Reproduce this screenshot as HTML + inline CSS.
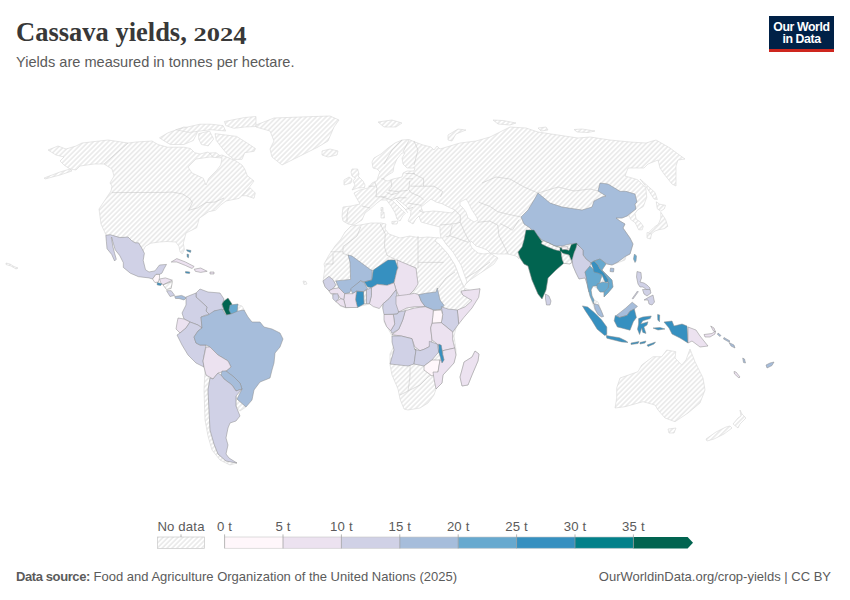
<!DOCTYPE html>
<html><head><meta charset="utf-8">
<style>
html,body{margin:0;padding:0;background:#fff;}
body{width:850px;height:600px;position:relative;overflow:hidden;font-family:"Liberation Sans",sans-serif;}
.t{position:absolute;white-space:nowrap;}
#title{left:16px;top:15px;font-family:"Liberation Serif",serif;font-weight:bold;font-size:26.5px;color:#383838;letter-spacing:0px;line-height:34px;}
.os{display:inline-block;transform:scaleY(0.68);transform-origin:50% 26px;}
.os4{display:inline-block;transform:translateY(3px) scaleY(0.93);transform-origin:50% 26px;}
#sub{left:16px;top:52.5px;font-size:14.6px;color:#5b5b5b;line-height:18px;}
#logo{position:absolute;left:769px;top:16px;width:65px;height:36px;background:#002147;}
#logo .bar{position:absolute;left:0;bottom:0;width:65px;height:3px;background:#ce261e;}
#logo .txt{position:absolute;left:0;top:5px;width:65px;text-align:center;color:#fff;font-size:12.3px;line-height:12.2px;font-weight:bold;letter-spacing:-0.4px;}
#foot1{left:16px;top:569px;font-size:13px;color:#5b5b5b;line-height:16px;}
#foot1 b{font-weight:bold;letter-spacing:-0.4px;}
#foot2{right:19px;top:569px;font-size:13px;color:#5b5b5b;line-height:16px;}
svg{position:absolute;left:0;top:0;}
.lg{font-size:13.2px;letter-spacing:0.15px;fill:#5b5b5b;font-family:"Liberation Sans",sans-serif;}
</style></head><body>
<div id="title" class="t">Cassava yields, <span class="os">202</span><span class="os4">4</span></div>
<div id="sub" class="t">Yields are measured in tonnes per hectare.</div>
<div id="logo"><div class="txt">Our World<br>in Data</div><div class="bar"></div></div>
<svg width="850" height="600" viewBox="0 0 850 600">
<defs><pattern id="hat" patternUnits="userSpaceOnUse" width="3.5" height="3.5" patternTransform="rotate(-45)"><rect width="3.5" height="3.5" fill="#fff"/><line x1="0" y1="1.75" x2="3.5" y2="1.75" stroke="#dddddd" stroke-width="1.0"/></pattern></defs>
<g fill="url(#hat)" stroke="#d6d6d6" stroke-width="0.6">
<path d="M48,150 L58,146 L66,149 L76,146 L82,143 L108,140 L128,143 L136,142 L152,141 L158,144.5 L167.6,147.2 L183.8,147.2 L190.6,148.6 L194.7,152.7 L200,154 L208,152 L214,157 L222,155 L236,161 L242,165 L244.7,169 L247.3,175.7 L254,181 L250,186.3 L243.3,194.3 L239.3,198.3 L226,201 L220.7,205 L215.3,210.3 L208.7,211.7 L199.3,218.3 L196.7,227.7 L186,233 L183.3,243.2 L184.4,249.7 L182.2,254 L180,251.8 L179,246.4 L175.8,242 L167,241.5 L159.5,242 L150.8,243.2 L145.4,246.4 L143,251 L135,242 L125,238 L113,236 L106,235 L101,224 L99,209 L107,197 L111,191 L112,186 L110,183 L114,176 L112,169 L104,164 L94,164 L80,166 L76,170 L70,169 L64,165 L60,161 L64,157 L56,155Z"/>
<path d="M159.5,137.8 L167.6,133 L183.8,127 L194.7,128.3 L197.4,132.4 L193.3,140.5 L183.8,144.5 L170.3,144.5 L163.5,140.5Z"/>
<path d="M198.7,133.7 L209.5,131 L213.6,139 L208.2,145.9 L201.4,144.5 L198.7,139Z"/>
<path d="M175.7,129.7 L200,124.2 L210.9,124.2 L223,125.6 L225.8,131 L210.9,129.7 L189.2,132.4Z"/>
<path d="M224.4,121.5 L244.7,117.5 L256,116.5 L256,126.5 L244.7,127 L233.9,128.3 L225.8,125.6Z"/>
<path d="M215,133.7 L225.8,135 L236.6,136.4 L247.4,143.2 L255.5,148.6 L254.2,151.3 L244.7,152.7 L242,159.4 L233.9,159.4 L227.1,154 L220.4,145.9 L216.3,140.5Z"/>
<path d="M209.5,153 L216,152.7 L220.4,156 L214,158Z"/>
<path d="M6,263 L10,264 L14,266.5 L18,268 L16,269 L11,266 L6,264.5Z"/>
<path d="M303,281 L306,281.5 L307,284 L304,284.5Z"/>
<path d="M256,125 L274,118 L300,117 L330,116 L339,120 L334,127 L328,141 L318,147 L300,156 L282,165 L272,157 L270,149 L274,141 L270,131 L256,127Z"/>
<path d="M322,151 L330,149 L338,151 L337,155 L328,157 L322,155Z"/>
<path d="M242,195.7 L250,187.7 L255.3,193 L254,198.3 L246,195.7Z"/>
<path d="M44,178 L60,172 L70,169 L72,171 L60,175 L45,179Z"/>
<path d="M354,225 L348,224 L343,221 L342,216 L343,207 L351,206 L360,204 L356,197 L354,193 L360,190 L368,188 L372,183 L377,180.5 L379,174 L380,172 L377,169 L373,168 L372,162 L374,158 L381,154 L388,148 L395,143 L402,140 L409,139.5 L415,142 L423,145 L431,147 L434,150 L437,146 L440,149 L460,143 L476,141 L490,137 L498,133 L510,127 L526,128 L538,132 L558,135 L578,138 L590,137 L610,140 L630,142 L646,143 L656,140 L670,148 L678,154 L685,159 L678,160 L676,166 L676,186 L672,184 L664,174 L660,168 L658,160 L648,164 L644,168 L628,168 L625,176 L632,178 L637.5,179.7 L645.7,187.8 L646.8,197.2 L643.3,206.5 L637.5,210 L635,213.5 L636.3,219.3 L640,221.7 L643.3,226.3 L642.2,229.8 L638.7,229.8 L635.2,222.8 L630.5,219.3 L629.3,215.8 L627,216 L622,218 L616,218 L620,221 L625,224 L623,228 L630,238 L633,244 L630,254 L626,256 L625,260 L617,263 L612,265 L607,264 L606,264 L602,270 L608,276 L612,280 L613,287 L608,293 L604,297 L604,292 L600,292 L597,288 L593,286 L591,290 L592,296 L594,300 L598,302 L603,316 L600,316 L595,310 L590,296 L588,288 L586,276 L579,279 L576,273 L573,266 L572,262 L570,262 L566,256 L562,257 L563,263 L554,270 L548,278 L546,290 L542,299 L538,294 L532,280 L528,266 L524,264 L520,258 L518,252 L519,259 L516,256 L508,254 L498,254 L490,253 L498,258 L494,264 L482,272 L470,280 L464,286 L460,270 L452,252 L446,244 L441,238 L440,232 L440,227 L430,224.5 L421,222 L419,216 L416,219 L413,224 L408,221 L410.5,215.5 L411,211.5 L406,206 L396.5,198.5 L392.5,198 L391.3,199.5 L399,207 L405.5,213.3 L403,215.5 L400,221 L397,219 L395,212.7 L391,206 L386.5,200 L381,200 L377,203 L369,210 L365,213 L362,220Z"/>
<path d="M352,169 L357.6,169 L359,174 L358,176 L363,181 L365,185 L364.6,187.5 L357.6,188 L352,190 L355,185 L353,181 L355.5,178 L352,176 L351,172Z"/>
<path d="M344,180 L349,177 L352,179 L351,183 L344,185Z"/>
<path d="M378,122 L392,120 L402,123 L396,127 L384,127Z"/>
<path d="M493,120 L503,120.5 L516,123 L510,125 L498,124Z"/>
<path d="M574,129.5 L582,129 L595,131 L588,132.5 L577,132Z"/>
<path d="M538,128 L546,127 L548,130 L541,131Z"/>
<path d="M448,135 L458,129 L466,130 L456,134 L452,141 L448,140Z"/>
<path d="M640,179 L655,192.5 L657.3,199.5 L654,199 L647,188Z"/>
<path d="M656.2,201.8 L659.7,204.2 L665.5,205.3 L664.3,208.8 L660.8,211.2 L657.3,208.8Z"/>
<path d="M660.8,212.3 L665.5,219.3 L667.8,226.3 L664.3,228.7 L658.5,229.8 L655,231 L649.2,235.7 L648,233.3 L653.8,227.5 L658.5,224 L660.8,218.2Z"/>
<path d="M647,232.5 L651.5,234 L650.5,239 L647,238Z"/>
<path d="M391.8,221.5 L398,221 L397,224 L392,224Z"/>
<path d="M381,207.5 L383,207.5 L383,211 L381,211Z"/>
<path d="M381,212 L384,212 L384.4,218 L381,218Z"/>
<path d="M351,226 L345,232 L341,239 L335,246 L329,255 L324,264 L325,268 L324,274 L323,282 L326,288 L330,292 L336,300 L340,306 L346,308 L356,307 L370,304 L382,305 L384,310 L386,314 L384,322 L390,332 L392,336 L394,346 L390,354 L390,365 L392,375 L398,389 L400,399 L404,409 L408,410 L420,408 L428,403 L434,395 L436,389 L442,383 L443,375 L454,363 L456,355 L456,350 L454,336 L456,328 L460,318 L468,310 L476,300 L480,289 L472,291 L464,288 L460,278 L455,265 L448,254 L439,244 L435,241 L439,238 L428,237 L419,237.7 L410,236 L400,238 L389,234 L385,229 L386,224 L381,223 L371,223 L360,225Z"/>
<path d="M475,351 L479,354 L478,361 L472,375 L468,385 L462,386 L460,377 L463,366 L464,362 L472,357Z"/>
<path d="M615,408 L625,406.7 L643,401.7 L655,405 L658,410 L665,418 L675,421.7 L688,413 L700,403 L705,390 L703,378 L695,361.7 L690,349 L686,360 L681.7,365 L675,358 L675.8,351.7 L666.7,350 L661.7,356.7 L653,356.7 L641.7,365 L638,371.7 L620,378 L616.7,388 L616.7,398Z"/>
<path d="M668,429 L676,428 L674,433 L669,433Z"/>
<path d="M740,410 L742,414 L746,418 L740,424 L738,428 L733,424 L738,418 L741,416Z"/>
<path d="M730,426 L732,428 L724,434 L714,439 L707,441 L706,439 L716,432 L726,427Z"/>
<path d="M203,361 L204,367 L205,370 L204,390 L205,420 L208,436 L212,450 L220,460 L230,465 L237,463 L226,461 L218,454 L214,444 L210,430 L209,410 L208,390 L210,378 L206,375Z"/>
<path d="M236,396 L237,399 L246,407 L240,411 L236,406Z"/>
<path d="M237,304.5 L242,306 L245,311 L239,313.5 L236.5,313Z"/>
</g><g fill="none" stroke="#c6c6c6" stroke-width="0.55">
<path d="M112,192.6 L165,192.4 L172,192 L182.6,194 L189.7,198.5 L192.4,202.6 L188.5,210.3"/>
<path d="M188.5,210.3 L197.4,208 L206,202.6 L215,202 L224,198"/>
<path d="M128,143 L104,164"/>
<path d="M360.6,227 L357,236 L348,243 L343,246.5 L343,251.8 L330.6,251.8"/>
<path d="M333,253.5 L333,264 L325.3,264"/>
<path d="M343,251.8 L343,253.5 L349,255.3"/>
<path d="M380,223.5 L385.3,234 L384.4,246.5 L387,255.3 L394,258.8 L397.6,260"/>
<path d="M418,236 L418,262.4 L418,268"/>
<path d="M418,262.4 L443.5,262.4"/>
<path d="M438,289 L446,278 L455,272"/>
<path d="M440.3,225 L455,223.7 L460.3,222.3"/>
<path d="M452.3,225 L449.7,235.7 L445.7,237"/>
<path d="M449.7,235.7 L468.3,242.3"/>
<path d="M460.3,222.3 L464.3,231.7 L469.7,242.3"/>
<path d="M455,210.3 L460.3,215.7 L460.3,222.3"/>
<path d="M477.7,222.3 L489.7,221 L497.7,225"/>
<path d="M497.7,225 L499,235.7 L504.3,246.3 L508.3,254.3"/>
<path d="M500.3,223.7 L508.3,227.7 L512.3,230.3 L519,219.7"/>
<path d="M479,202.3 L489.7,206.3 L497.7,211.7 L508.3,214.3 L521,217"/>
<path d="M482,183 L496,177 L510,179 L524,187 L538,193"/>
<path d="M538,193 L558,187 L574,191 L590,189 L598,191"/>
<path d="M362,206 L370,208"/>
<path d="M348.5,208 L347,214.7 L347,222.5"/>
<path d="M374.8,182 L377,188.3 L375.9,196.8 L381.2,196.8 L386.5,196.8"/>
<path d="M368.5,186.2 L374.8,186.2"/>
<path d="M390.7,178.8 L391.8,186.2 L388.6,190.4 L397,191.5 L407.7,190.4"/>
<path d="M381.2,178.8 L387.5,178.8"/>
<path d="M386.5,192.5 L391.8,194.7 L399.2,192.5"/>
<path d="M381.2,196.8 L391.8,200 L398,197.8 L406.6,197.8"/>
<path d="M409.8,180.9 L408.7,189.4 L410.8,192.5"/>
<path d="M413,173.5 L423.6,178.8 L423.6,186.2"/>
<path d="M423.6,186.2 L434,186.2 L442.6,191.5 L440.5,196.8"/>
<path d="M410.8,186.2 L423.6,186.2"/>
<path d="M410.8,192.5 L420.4,196.8 L423.6,200"/>
<path d="M407.7,203.1 L421.4,205.3"/>
<path d="M396,200 L405.5,209.5 L413,207.4"/>
<path d="M405.5,209.5 L407.7,212.7"/>
<path d="M405.5,173.5 L415,173.5"/>
<path d="M405.5,178.8 L413,178.8"/>
<path d="M419.3,210.5 L423.6,212.7"/>
<path d="M414,141 L418,150 L414,165"/>
<path d="M402,140 L392,150 L384,164"/>
<path d="M409,140 L403,152"/>
<path d="M410,365 L410,377 L408,391 L400,395"/>
<path d="M408,391 L420,385 L428,377 L433,374"/>
<path d="M462,280 L476,272 L490,262"/>
<path d="M464,289 L470,296 L460,292"/>
</g><g fill="#fff" stroke="#d6d6d6" stroke-width="0.6">
<path d="M196,159 L210,157 L222,158 L220.7,165 L216.7,170.3 L208.7,178.3 L206,185 L203.3,178.3 L192,173 L188,167Z"/>
<path d="M394,166 L397,159 L402,153 L405,153 L402,158 L403,164 L407,168 L415,168 L414,171 L407,171 L403,173 L402,177 L393,179 L388,181 L384,180 L384,178 L388,175 L393,172Z"/>
<path d="M421,207 L426,203 L431,199 L436,202 L442,203.7 L449.7,207.7 L455,210 L452,213 L444,212 L434,211 L423,212Z"/>
<path d="M460,202 L466,199 L468,202 L472,210 L476,216 L478,220 L474,222 L468,218 L466,212 L463,208 L460,205Z"/>
<path d="M471,241 L476,246 L482,248 L487,250 L490,253 L484,254 L478,253 L472,248 L470,244Z"/>
<path d="M437,238 L442,238 L446,244 L453,252 L461,265 L467,282 L464,287 L460,278 L455,265 L448,254 L439,244 L435,241Z"/>
</g><g stroke="#8a8a8a" stroke-width="0.5" stroke-linejoin="round">
<path fill="#d0d1e6" d="M105.8,235.3 L110.5,234.7 L119.8,237.6 L128,237 L131.5,240.5 L135,242.8 L138.5,242.8 L141.4,247.5 L144.4,253.3 L143.2,260.3 L145.5,269.7 L149,272 L154.9,270.9 L159.5,265 L166.5,264.4 L164.2,268.5 L161.9,273.2 L159.5,274.4 L156,274.4 L152.5,279 L149,277.9 L138.5,276.7 L130.3,273.2 L123.3,267.4 L123.3,262.7 L119.8,255.7 L115.2,249.8 L112.8,241.7 L111.7,237 L111.2,238 L111.7,239.3 L112.8,246.3 L114.6,253.3 L116.3,259.2 L114.6,261 L111.7,254.5 L107,248.7 L106.4,241.7Z"/>
<path fill="#fff7fb" d="M152.5,279 L156,274.4 L159.5,274.4 L159.5,277.9 L158.4,282 L154.9,282.5Z"/>
<path fill="#ece2f0" d="M159.5,279 L165.4,277.9 L172.4,280.2 L167.7,282.5 L163,284.9 L160.7,282.5Z"/>
<path fill="#3690c0" d="M157.2,282.5 L161.9,283.7 L160.7,285.4 L157.2,284.9Z"/>
<path fill="url(#hat)" d="M163,284.9 L172.4,281.4 L171.2,288.4 L166.5,289.5Z"/>
<path fill="#d0d1e6" d="M166.5,290.7 L171.2,290.7 L174.7,295.4 L170,296.5Z"/>
<path fill="#a6bddb" d="M174.7,296.5 L181.7,295.4 L186.4,297.7 L184,300 L179,298.5 L175.5,298.5Z"/>
<path fill="#ece2f0" d="M171.2,262 L176.8,258.6 L185.5,262 L194.2,266.5 L192,268.5 L185.5,265.5 L176.8,262Z"/>
<path fill="#ece2f0" d="M194.2,269.2 L200.7,268 L207.2,271.3 L200.7,272.4 L195.3,271.3Z"/>
<path fill="#3690c0" d="M185.5,271.5 L189.8,272 L189.5,273.5 L185.5,273Z"/>
<path fill="#ece2f0" d="M210,272 L214,272 L214,274 L210,274Z"/>
<path fill="#3690c0" d="M186.6,249.7 L191,250.5 L190.5,252.4 L187,251Z"/>
<path fill="#3690c0" d="M187,254 L188.7,254.5 L188.5,257.8 L187.2,257Z"/>
<path fill="#d0d1e6" d="M196,293 L200,289 L208,292 L220,293 L224,299 L222,305 L224,310 L214,311 L210,315 L206,311 L207,307 L196,297Z"/>
<path fill="#d0d1e6" d="M186,297 L196,293 L196,297 L207,307 L206,311 L210,315 L206,315 L201,317 L202,328 L198,325 L190,322 L184,319 L182,313 L186,305Z"/>
<path fill="#016450" d="M224,301 L228,298 L232,304 L230,310 L232,314 L227,316 L224,310 L222,304Z"/>
<path fill="#67a9cf" d="M230,305 L238,304 L237,313 L231,314 L229,310Z"/>
<path fill="#ece2f0" d="M178,318 L184,319 L190,322 L186,328 L180,333 L176,329 L177,323Z"/>
<path fill="#d0d1e6" d="M180,333 L186,328 L190,322 L198,325 L202,328 L198,331 L194,337 L196,343 L200,345 L206,345 L203,361 L204,367 L196,363 L188,355 L182,345 L177,335Z"/>
<path fill="#a6bddb" d="M201,317 L208,315 L214,311 L222,309 L226,315 L231,314 L238,311 L244,310 L248,317 L252,322 L260,322 L264,327 L272,329 L280,333 L283,339 L280,347 L275,353 L274,363 L272,370 L270,378 L260,382 L254,390 L252,400 L246,407 L237,399 L242,389 L240,383 L234,377 L226,371 L231,367 L228,361 L218,355 L210,347 L206,345 L200,345 L196,343 L194,337 L198,331 L202,328Z"/>
<path fill="#ece2f0" d="M206,347 L210,347 L218,355 L228,361 L231,367 L226,371 L218,373 L213,379 L206,375 L204,367 L203,361Z"/>
<path fill="#a6bddb" d="M222,371 L226,371 L234,377 L240,383 L242,389 L236,391 L232,385 L224,379 L221,375Z"/>
<path fill="#d0d1e6" d="M210,378 L213,379 L218,373 L221,375 L224,379 L232,385 L236,391 L242,389 L236,396 L236,406 L240,416 L236,421 L230,423 L228,428 L226,438 L228,445 L226,454 L229,458 L237,463 L226,461 L218,454 L214,444 L210,430 L209,410 L208,390Z"/>
<path fill="#d0d1e6" d="M323,280.9 L328.9,276.4 L332.8,279.4 L335.8,284.8 L332.8,288.8 L328.9,290.8 L325,286.8Z"/>
<path fill="#a6bddb" d="M348,255 L352,256 L371,270 L372.3,270 L371.9,279.9 L364.4,281.9 L360.5,280.9 L351.6,288.8 L349.6,292.7 L344.7,293.7 L338.8,287.8 L335.8,280.9 L350.6,279.4 L350,262Z"/>
<path fill="#a6bddb" d="M350.6,288.8 L360.5,280.9 L364.4,282.8 L367.4,288.8 L363.5,291.7 L356.5,291.2 L352.6,293.7Z"/>
<path fill="#3690c0" d="M364.4,281.9 L371.9,279.9 L373.3,270 L388,260 L395,260 L398,268 L397,270 L394,282.8 L387.2,285.3 L377.3,284.3 L371.4,287.8 L367.4,286.8Z"/>
<path fill="#ece2f0" d="M397,260 L416,268 L418,284 L414,290 L408,296 L404,300 L399,296 L396,289.8 L394,282.8 L397,270 L398,268Z"/>
<path fill="#ece2f0" d="M371.4,287.8 L377.3,284.3 L387.2,285.3 L394,282.8 L396,289.8 L389.1,298.7 L383.2,303.6 L379.3,308.5 L373.3,306.6 L369.4,303.6 L371.4,295.7Z"/>
<path fill="url(#hat)" d="M363.5,291.7 L366.4,289.8 L366.4,303.6 L364,304Z"/>
<path fill="#d0d1e6" d="M366.4,289.8 L371.4,287.8 L371.4,295.7 L369.4,303.6 L366.4,303.6Z"/>
<path fill="#3690c0" d="M356.5,291.2 L363.5,291.7 L364,304 L357.5,307.5 L355.5,299.6Z"/>
<path fill="#ece2f0" d="M344.7,293.7 L352.6,293.7 L356.5,291.2 L355.5,299.6 L357.5,307.5 L345.7,307.5 L343.7,299.6Z"/>
<path fill="#ece2f0" d="M328.9,290.8 L332.8,288.8 L338.8,287.8 L344.7,293.7 L343.7,299.6 L340.7,298.7 L337.8,294.7 L333.8,293.7 L330.8,293.7Z"/>
<path fill="#d0d1e6" d="M332.8,294.2 L337.8,293.7 L338.8,298.7 L335.8,301.6 L332.8,298.7Z"/>
<path fill="#ece2f0" d="M335.8,301.6 L340.7,298.7 L343.7,299.6 L345.7,307.5 L340.7,305.6Z"/>
<path fill="#d0d1e6" d="M383.2,303.6 L389.1,298.7 L396,289.8 L397,295.7 L399,302.6 L398.7,312 L397.3,314 L384,314.5 L382.7,308Z"/>
<path fill="#ece2f0" d="M396,296 L406.7,294.7 L414.7,293.3 L418.7,294.7 L421.3,301.3 L425.3,306.7 L414.7,306.7 L406.7,308 L398.7,312 L396,304Z"/>
<path fill="#a6bddb" d="M418.7,294.7 L425.3,293.3 L436,292 L437.3,288 L440,300 L444,305.3 L441.3,309.3 L433.3,310 L425.3,306.7 L421.3,301.3Z"/>
<path fill="#ece2f0" d="M461,291 L470,290 L480,288.7 L478.7,297.3 L472,308 L464,317.3 L458.7,324 L457.3,310 L465.3,306.7 L472,300.5 L462.7,295Z"/>
<path fill="#d0d1e6" d="M441.3,306.7 L448,309 L457.3,310 L458.7,324 L452.7,332 L441.3,322.7 L442.7,314.7Z"/>
<path fill="#fff7fb" d="M433.3,310.7 L441.3,310 L442.7,314.7 L441.3,322.7 L432,323.3 L432.7,317.3Z"/>
<path fill="#ece2f0" d="M405.3,310.7 L414.7,308 L425.3,306.7 L433.3,310 L432.7,317.3 L432,323.3 L430.7,328 L432,340 L429.3,346.7 L424,349.3 L420,350.7 L414.7,346.7 L412,338.7 L401.3,336 L392,334.7 L398.7,329.3 L402.7,320Z"/>
<path fill="#d0d1e6" d="M393.3,314.5 L397.3,314 L398.7,312 L405.3,310.7 L402.7,320 L398.7,329.3 L392,333.3 L390.7,330.7 L394.7,324Z"/>
<path fill="#ece2f0" d="M384,314.5 L393.3,314.5 L394.7,324 L390.7,330.7 L386.7,326.7 L384,320Z"/>
<path fill="#ece2f0" d="M432,323.3 L441.3,322.7 L452.7,332 L452.7,340 L454.7,348 L442.7,350.7 L437.3,344 L432,340 L430.7,328Z"/>
<path fill="#d0d1e6" d="M392,336 L401.3,336 L412,338.7 L414.7,349.3 L416,350 L414,364 L408,366 L390,364 L394,350 L392,342Z"/>
<path fill="#d0d1e6" d="M414.7,349.3 L420,350.7 L424,349.3 L429.3,346.7 L429.3,341.3 L437.3,344 L438.7,352 L432,360 L424,366 L414,364 L416,350Z"/>
<path fill="#fff7fb" d="M424,366 L432,360 L440,360 L438,372 L432,376 L424,370Z"/>
<path fill="#ece2f0" d="M442.7,350.7 L454.7,348 L456,355 L454,363 L443,375 L442,383 L436,389 L434,379 L433,372 L438,372 L440,360 L444,360 L442.7,354.7Z"/>
<path fill="#3690c0" d="M438.7,344 L441.3,345.3 L442.7,354.7 L444,360 L442,363 L440,356 L438.7,352Z"/>
<path fill="#ece2f0" d="M475,351 L479,354 L478,361 L472,375 L468,385 L462,386 L460,377 L463,366 L464,362 L472,357Z"/>
<path fill="#a6bddb" d="M521,217 L528,210 L534,200 L538,193 L550,203 L562,207 L582,210 L592,207 L594,201 L602,197 L606,196 L598,191 L600,183 L608,184 L620,191.3 L625.8,191.3 L635,194 L637,202 L635,204 L636,209 L631.7,212.3 L627,216 L622,218 L616,218 L620,221 L625,224 L623,228 L630,238 L633,244 L630,254 L626,256 L618,262 L612,265 L607,264 L604,262 L600,259 L594,261 L591,263 L586,259 L583,255 L583,250 L580,247 L577,244 L570,244 L562,246 L554,246 L542,240 L536,234 L530,228 L524,224Z"/>
<path fill="#a6bddb" d="M610.5,268 L614,268.5 L613.5,272 L610,271.5Z"/>
<path fill="#67a9cf" d="M634.5,254 L636.5,256 L636,261 L635,262.5 L633.5,259 L634,256Z"/>
<path fill="#016450" d="M526,230 L534,230 L538,236 L542,241.5 L548.8,243 L554.8,246 L560,247.5 L569,250.5 L571.3,244.5 L576.5,243 L579.5,246.8 L575,251.3 L573.5,256.5 L572.8,261.8 L570.5,258.8 L569,255 L563,253.5 L561.5,255 L562.3,259.5 L563.8,263.3 L556,270 L548,278 L546,290 L542,299 L538,294 L532,280 L528,266 L524,264 L520,258 L518,252 L522,247 L524,240Z"/>
<path fill="#fff7fb" d="M561.5,246.8 L567.5,246.8 L568.3,249 L562.3,249.8Z"/>
<path fill="#d0d1e6" d="M545.5,294 L549,296 L551,301 L550,305 L546.5,305 L545.5,299Z"/>
<path fill="#d0d1e6" d="M577,244 L580,247 L583,250 L583,255 L586,259 L591,263 L590,266 L585,272 L586,276 L588,282 L590,288 L589,292 L587,284 L585,278 L579,279 L576,273 L573,266 L572,260 L574,253 L576,248Z"/>
<path fill="#67a9cf" d="M585,272 L590,266 L594,270 L598,273 L602,275 L600,282 L597,286 L593,286 L591,290 L592,296 L594,300 L593.5,304 L590,296 L588,288 L586,276Z"/>
<path fill="#3690c0" d="M591,263 L594,261 L598,265 L600,269 L604,273 L608,279 L608,282 L605,282 L602,275 L598,273 L594,272 L593,268Z"/>
<path fill="#67a9cf" d="M594,261 L600,259 L604,262 L606,264 L602,270 L608,276 L612,280 L613,287 L608,293 L604,297 L604,292 L608,288 L608,282 L608,279 L604,273 L600,269 L598,265Z"/>
<path fill="#67a9cf" d="M597,284 L603,282 L609,283 L608,288 L604,292 L600,292 L597,288Z"/>
<path fill="#a6bddb" d="M594,303.8 L598.3,304.8 L601.5,311.2 L603.6,316.5 L601.5,317 L597.8,314.4 L595,309Z"/>
<path fill="#3690c0" d="M582.4,305.9 L587.7,307 L594,312.2 L601.5,319.7 L606.8,327 L606.8,334.5 L604.7,335.5 L597.2,329.2 L592,320.7 L585.6,311.2Z"/>
<path fill="#3690c0" d="M606.2,335.5 L612,336.6 L619.5,337.7 L625.8,340.8 L628,342.4 L621.6,341.9 L613,339.8 L606.8,338.2Z"/>
<path fill="#a6bddb" d="M616.3,315.4 L620.5,312.2 L625.8,308 L632.2,302.2 L637.5,306.4 L634.3,309 L630,311.2 L627,315.4 L619.5,317.5Z"/>
<path fill="#3690c0" d="M615.3,315.4 L619.5,317.5 L627,315.4 L630,311.2 L634.3,309 L636.4,317.5 L633.3,321.8 L630,330.2 L621.6,328 L617.4,327 L614.2,320.7Z"/>
<path fill="#3690c0" d="M638.6,318.6 L642.8,317 L651.3,316 L650.2,318.6 L642.8,320.7 L640.7,323.9 L644.9,322.8 L648,321.8 L647,325 L643.9,327 L646,333.4 L642.8,332.4 L641.7,328 L639.6,334.5 L637.5,329.2 L638.6,324Z"/>
<path fill="#d0d1e6" d="M637,271.5 L641,272.5 L641.5,278 L640,282 L644,283 L647,285 L650,288 L650,291 L647,290 L643,287 L640,287 L638,284 L636.5,277Z"/>
<path fill="#d0d1e6" d="M642.5,289.5 L650,289.5 L651,293 L647,296 L644,294Z"/>
<path fill="#d0d1e6" d="M644,300 L649,297 L653,295 L654.5,302 L652,305 L649,304 L648,300Z"/>
<path fill="#3690c0" d="M657.6,314.4 L659.7,315 L659.5,321.8 L657.8,320Z"/>
<path fill="#3690c0" d="M653,328 L660,327.5 L665,329 L658,330Z"/>
<path fill="#3690c0" d="M647,345 L655.5,342 L654,344 L648,346.5Z"/>
<path fill="#d0d1e6" d="M632.2,298.5 L637.5,291 L638.3,291.8 L633,299Z"/>
<path fill="#3690c0" d="M664,322 L672,321 L674,326 L682,324 L687,326 L688,343 L680,338 L672,334 L669,328Z"/>
<path fill="#ece2f0" d="M688,327 L696,330 L700,336 L708,346 L700,347 L692,341 L688,343Z"/>
<path fill="#3690c0" d="M631,343 L639,341.5 L638,343.5 L631,344.5Z"/>
<path fill="#3690c0" d="M640,342.5 L646,341 L645,343 L640,344Z"/>
<path fill="#ece2f0" d="M704,334.5 L712,333.5 L715.4,331 L715,334 L710,337 L705,337Z"/>
<path fill="#ece2f0" d="M710.7,326 L714,328 L715.4,332 L713.5,331Z"/>
<path fill="#a6bddb" d="M718,333 L721,335.5 L720,336.5 L717.5,334.5Z"/>
<path fill="#a6bddb" d="M724,337.5 L730,341 L729,342 L723.5,339Z"/>
<path fill="#a6bddb" d="M729,342.5 L734,345 L735,348 L731,346Z"/>
<path fill="#a6bddb" d="M742.7,358 L744.5,359 L745.5,363 L743.5,362.5Z"/>
<path fill="#ece2f0" d="M734,371.5 L736,372 L740,377 L739,378 L734.5,374Z"/>
<path fill="#a6bddb" d="M766,365 L770,363 L774,362 L772,365.5 L767,368Z"/>
</g><g fill="url(#hat)" stroke="#8a8a8a" stroke-width="0.5">
<path d="M542,241.5 L543.5,240.8 L548.8,243 L554.8,246 L560,247.5 L560,250.9 L554.8,249.8 L547.3,246.8 L541.3,243.8Z"/>
<path d="M560.8,251.3 L563,253.5 L569,255 L570.5,258.8 L572,262.5 L569.8,264 L563.8,263.3 L562.3,259.5 L561.5,255Z"/>
</g>
<g>
<rect x="157.4" y="537" width="47.2" height="11.4" fill="url(#hat)" stroke="#c8c8c8" stroke-width="0.7"/>
<line x1="181" y1="534.4" x2="181" y2="537" stroke="#999" stroke-width="0.7"/>
<text class="lg" x="181" y="530.5" text-anchor="middle">No data</text>
<rect x="224.6" y="537" width="58.4" height="11.4" fill="#fff7fb"/>
<rect x="283" y="537" width="58.4" height="11.4" fill="#ece2f0"/>
<rect x="341.4" y="537" width="58.4" height="11.4" fill="#d0d1e6"/>
<rect x="399.8" y="537" width="58.4" height="11.4" fill="#a6bddb"/>
<rect x="458.2" y="537" width="58.4" height="11.4" fill="#67a9cf"/>
<rect x="516.6" y="537" width="58.4" height="11.4" fill="#3690c0"/>
<rect x="575" y="537" width="58.4" height="11.4" fill="#02818a"/>
<path d="M633.4,537 L687.6,537 L693,542.7 L687.6,548.4 L633.4,548.4Z" fill="#016450"/>
<path d="M224.6,537 L633.4,537 M224.6,548.4 L633.4,548.4" stroke="#c8c8c8" stroke-width="0.6" fill="none"/>
<g stroke="#999" stroke-width="0.7">
<line x1="224.6" y1="534.4" x2="224.6" y2="548.4"/><line x1="283" y1="534.4" x2="283" y2="548.4"/><line x1="341.4" y1="534.4" x2="341.4" y2="548.4"/><line x1="399.8" y1="534.4" x2="399.8" y2="548.4"/><line x1="458.2" y1="534.4" x2="458.2" y2="548.4"/><line x1="516.6" y1="534.4" x2="516.6" y2="548.4"/><line x1="575" y1="534.4" x2="575" y2="548.4"/><line x1="633.4" y1="534.4" x2="633.4" y2="548.4"/>
</g>
<g class="lg" text-anchor="middle">
<text x="224.6" y="530.5">0 t</text><text x="283" y="530.5">5 t</text><text x="341.4" y="530.5">10 t</text><text x="399.8" y="530.5">15 t</text><text x="458.2" y="530.5">20 t</text><text x="516.6" y="530.5">25 t</text><text x="575" y="530.5">30 t</text><text x="633.4" y="530.5">35 t</text>
</g>
</g>
</svg>
<div id="foot1" class="t"><b>Data source:</b> Food and Agriculture Organization of the United Nations (2025)</div>
<div id="foot2" class="t">OurWorldinData.org/crop-yields | CC BY</div>
</body></html>
